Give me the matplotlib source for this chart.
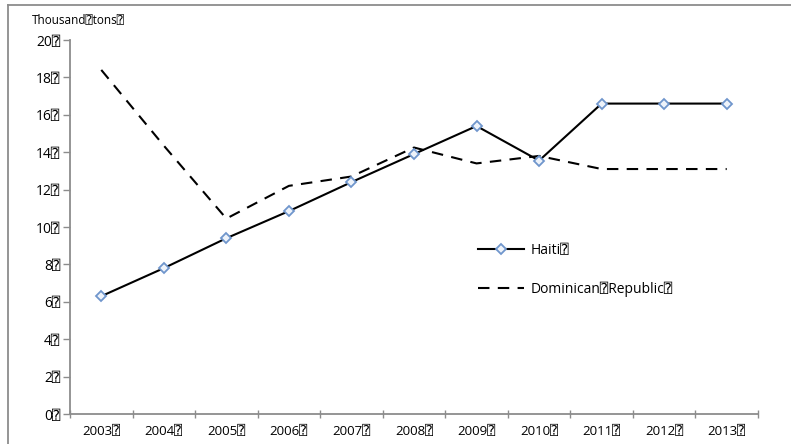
import matplotlib
matplotlib.use("Agg")
import matplotlib.pyplot as plt
from matplotlib.lines import Line2D
import numpy as np

BOX = "\u2370"

years = ["2003", "2004", "2005", "2006", "2007", "2008", "2009", "2010", "2011", "2012", "2013"]
haiti = [6.3, 7.8, 9.4, 10.85, 12.4, 13.9, 15.4, 13.55, 16.6, 16.6, 16.6]
dominican = [18.4, 14.35, 10.45, 12.2, 12.7, 14.25, 13.4, 13.8, 13.1, 13.1, 13.1]
yticks = [0, 2, 4, 6, 8, 10, 12, 14, 16, 18, 20]

plt.rcParams['font.family'] = ['Open Sans', 'DejaVu Sans', 'DejaVu Sans Mono']

W, H = 791, 444
fig = plt.figure(figsize=(W / 100, H / 100), dpi=100)
ax = fig.add_axes([70 / W, (H - 414) / H, (758 - 70) / W, (414 - 40) / H])

x = np.arange(len(years))
ax.plot(x, haiti, color="black", lw=1.5, marker="D", markersize=5.5,
        markerfacecolor="#eef3fa", markeredgecolor="#6f96cc", markeredgewidth=1.3,
        label="Haiti" + BOX, zorder=3)
ax.plot(x, dominican, color="black", lw=1.5, dashes=(5.5, 4),
        label="Dominican" + BOX + "Republic" + BOX, zorder=2)

ax.set_xlim(-0.5, len(years) - 0.5)
ax.set_ylim(0, 20)

grey = "#8c8c8c"
for side in ("top", "right"):
    ax.spines[side].set_visible(False)
for side in ("left", "bottom"):
    ax.spines[side].set_color(grey)
    ax.spines[side].set_linewidth(1.3)

ax.set_yticks(yticks)
ax.set_yticklabels([f"{v}{BOX}" for v in yticks])
ax.set_xticks(x)
ax.set_xticklabels([y + BOX for y in years])
ax.set_xticks(np.arange(-0.5, len(years)), minor=True)
ax.tick_params(axis="x", which="major", length=0, pad=8, labelsize=9.5)
ax.tick_params(axis="x", which="minor", direction="inout", length=6, width=1, color=grey)
ax.tick_params(axis="y", direction="out", length=5, width=1, color=grey, pad=2, labelsize=10)

ax.text(-0.055, 1 + 20 / 374, "Thousand" + BOX + "tons" + BOX, transform=ax.transAxes,
        fontsize=8.5, ha="left", va="center")

leg = ax.legend(loc="upper left", bbox_to_anchor=(0.575, 0.49), frameon=False,
                fontsize=10, handlelength=3.3, labelspacing=1.7, handletextpad=0.5)

# outer frame
fig.add_artist(Line2D([8 / W, 8 / W], [0, 1 - 5 / H], color=grey, lw=1.3))
fig.add_artist(Line2D([8 / W, 1], [1 - 5 / H, 1 - 5 / H], color=grey, lw=1.3))

fig.savefig("out.png", dpi=100)
